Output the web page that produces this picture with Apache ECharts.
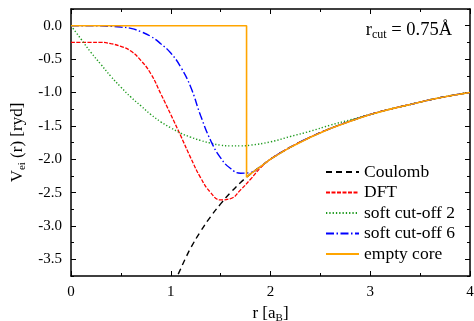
<!DOCTYPE html>
<html>
<head>
<meta charset="utf-8">
<script src="https://cdn.jsdelivr.net/npm/echarts@6/dist/echarts.min.js"></script>
<style>
  html, body { margin: 0; padding: 0; background: #fff; }
  #chart { width: 474px; height: 321px; }
</style>
</head>
<body>
<div id="chart"></div>
<script>
// Electron-ion pseudopotentials V_ei(r) in Rydberg, r in Bohr radii
const rCoulomb = [1.0, 1.05, 1.1, 1.15, 1.2, 1.3, 1.4, 1.5, 1.6, 1.7, 1.76, 1.8, 1.9, 2.0, 2.2, 2.4, 2.6, 2.8, 3.0, 3.2, 3.4, 3.6, 3.8, 4.0];
const vCoulomb = [-4.0, -3.81, -3.64, -3.48, -3.33, -3.08, -2.86, -2.67, -2.5, -2.35, -2.27, -2.22, -2.11, -2.0, -1.82, -1.67, -1.54, -1.43, -1.33, -1.25, -1.18, -1.11, -1.05, -1.0];

const rDft = [0, 0.1, 0.2, 0.3, 0.4, 0.5, 0.6, 0.7, 0.8, 0.9, 1.0, 1.1, 1.2, 1.3, 1.4, 1.5, 1.6, 1.7, 1.8, 1.9, 2.0, 2.2, 2.4, 2.6, 2.8, 3.0, 3.2, 3.4, 3.6, 3.8, 4.0];
const vDft = [-0.25, -0.25, -0.25, -0.25, -0.27, -0.31, -0.38, -0.52, -0.72, -1.02, -1.33, -1.65, -1.98, -2.28, -2.5, -2.61, -2.59, -2.46, -2.3, -2.13, -2.0, -1.82, -1.67, -1.54, -1.43, -1.33, -1.25, -1.18, -1.11, -1.05, -1.0];

const rSoft2 = [0, 0.1, 0.2, 0.3, 0.4, 0.5, 0.6, 0.7, 0.8, 0.9, 1.0, 1.1, 1.2, 1.3, 1.4, 1.5, 1.6, 1.7, 1.8, 2.0, 2.2, 2.4, 2.6, 2.8, 3.0, 3.2, 3.4, 3.6, 3.8, 4.0];
const vSoft2 = [0, -0.2, -0.4, -0.58, -0.76, -0.92, -1.07, -1.2, -1.33, -1.44, -1.53, -1.61, -1.67, -1.72, -1.76, -1.79, -1.8, -1.8, -1.79, -1.74, -1.66, -1.58, -1.49, -1.41, -1.33, -1.25, -1.18, -1.11, -1.05, -1.0];

const rSoft6 = [0, 0.2, 0.4, 0.5, 0.6, 0.7, 0.8, 0.9, 1.0, 1.1, 1.2, 1.3, 1.4, 1.5, 1.6, 1.7, 1.8, 1.9, 2.0, 2.2, 2.4, 2.6, 2.8, 3.0, 3.2, 3.4, 3.6, 3.8, 4.0];
const vSoft6 = [0, 0, -0.01, -0.02, -0.04, -0.09, -0.16, -0.27, -0.41, -0.62, -0.92, -1.35, -1.72, -1.98, -2.14, -2.21, -2.2, -2.11, -2.0, -1.82, -1.67, -1.54, -1.43, -1.33, -1.25, -1.18, -1.11, -1.05, -1.0];

const rEmpty = [0, 1.76, 1.76, 1.8, 1.9, 2.0, 2.2, 2.4, 2.6, 2.8, 3.0, 3.2, 3.4, 3.6, 3.8, 4.0];
const vEmpty = [0, 0, -2.27, -2.22, -2.11, -2.0, -1.82, -1.67, -1.54, -1.43, -1.33, -1.25, -1.18, -1.11, -1.05, -1.0];

const seriesNames = ['Coulomb', 'DFT', 'soft cut-off 2', 'soft cut-off 6', 'empty core'];

// tick positions
const yMajor = [-3.5, -3.0, -2.5, -2.0, -1.5, -1.0, -0.5, 0.0];
const yMinor = [-3.75, -3.25, -2.75, -2.25, -1.75, -1.25, -0.75, -0.25, 0.25];

const FONT = '"Liberation Serif", "DejaVu Serif", serif';

function pairs(xs, ys) { return xs.map((x, i) => [x, ys[i]]); }

function line(name, xs, ys, color, type, width, smooth) {
  return {
    name: name, type: 'line', data: pairs(xs, ys),
    symbol: 'none', smooth: smooth, clip: true,
    lineStyle: { color: color, type: type, width: width },
    itemStyle: { color: color },
    emphasis: { disabled: true }, animation: false
  };
}

function yAxisDef(pos, ticks, len, withLine, withLabel) {
  return {
    type: 'value', position: pos, min: -3.75, max: 0.25,
    axisLine: { show: withLine, onZero: false, lineStyle: { color: '#000', width: 1.5 } },
    axisTick: { show: true, inside: true, length: len, customValues: ticks, lineStyle: { color: '#000', width: 1 } },
    axisLabel: withLabel ? {
      show: true, customValues: yMajor, margin: 9, color: '#000',
      fontFamily: FONT, fontSize: 15,
      formatter: v => v.toFixed(1)
    } : { show: false },
    splitLine: { show: false }
  };
}

function xAxisDef(pos, withLabel) {
  return {
    type: 'value', position: pos, min: 0, max: 4, interval: 1,
    axisLine: { show: true, onZero: false, lineStyle: { color: '#000', width: 1.5 } },
    axisTick: { show: true, inside: true, length: 5, lineStyle: { color: '#000', width: 1 } },
    minorTick: { show: true, splitNumber: 2, length: 3, lineStyle: { color: '#000', width: 1 } },
    axisLabel: withLabel ? { show: true, margin: 9, color: '#000', fontFamily: FONT, fontSize: 15 } : { show: false },
    splitLine: { show: false },
    minorSplitLine: { show: false }
  };
}

const chart = echarts.init(document.getElementById('chart'), null, { renderer: 'canvas' });

const xBottom = xAxisDef('bottom', true);
xBottom.name = '{n|r [a}{s|B}{n|]}';
xBottom.nameLocation = 'middle';
xBottom.nameGap = 23;
xBottom.nameTextStyle = {
  color: '#000', fontFamily: FONT, fontSize: 17,
  rich: {
    n: { fontFamily: FONT, fontSize: 17, color: '#000' },
    s: { fontFamily: FONT, fontSize: 11, color: '#000', padding: [9, 0, 0, 0] }
  }
};

const yLeft = yAxisDef('left', yMajor, 5, true, true);
yLeft.name = '{n|V}{s|ei}{n| (r) [ryd]}';
yLeft.nameLocation = 'middle';
yLeft.nameGap = 41;
yLeft.nameTextStyle = {
  color: '#000', fontFamily: FONT, fontSize: 17,
  rich: {
    n: { fontFamily: FONT, fontSize: 17, color: '#000' },
    s: { fontFamily: FONT, fontSize: 11, color: '#000', padding: [9, 0, 0, 0] }
  }
};

chart.setOption({
  backgroundColor: '#fff',
  animation: false,
  grid: { left: 71, right: 4, top: 9, bottom: 45, containLabel: false, outerBoundsMode: 'none' },
  xAxis: [xBottom, xAxisDef('top', false)],
  yAxis: [
    yLeft,
    yAxisDef('left', yMinor, 3, false, false),
    yAxisDef('right', yMajor, 5, true, false),
    yAxisDef('right', yMinor, 3, false, false)
  ],
  legend: {
    orient: 'vertical', left: 320, top: 157,
    itemWidth: 33, itemHeight: 20, itemGap: 0.5, itemTextGap: 8,
    selectedMode: false,
    itemStyle: { opacity: 0 },
    textStyle: { fontFamily: FONT, fontSize: 17.5, color: '#000', lineHeight: 20 },
    data: seriesNames
  },
  graphic: [{
    type: 'text', right: 22, top: 21,
    style: {
      text: '{a|r}{s|cut}{a| = 0.75Å}',
      rich: {
        a: { fontFamily: FONT, fontSize: 18.5, fill: '#000' },
        s: { fontFamily: FONT, fontSize: 12, fill: '#000', padding: [8, 0, 0, 0] }
      }
    }
  }],
  series: [
    line(seriesNames[0], rCoulomb, vCoulomb, '#000000', [6, 4], 1.4, true),
    line(seriesNames[1], rDft, vDft, '#ff0000', [4, 1.5], 1.3, true),
    line(seriesNames[2], rSoft2, vSoft2, '#1e9a1e', [1.3, 2], 1.4, true),
    line(seriesNames[3], rSoft6, vSoft6, '#0000ff', [8, 2.5, 1.5, 2.5], 1.4, true),
    line(seriesNames[4], rEmpty, vEmpty, '#ffa500', 'solid', 1.6, false)
  ]
});
</script>
</body>
</html>
